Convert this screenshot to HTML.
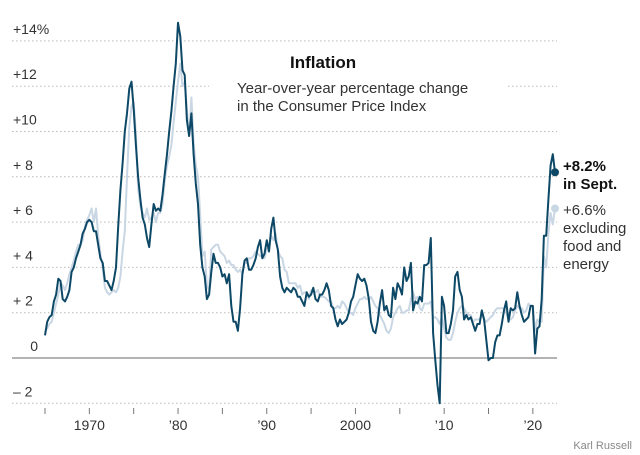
<!DOCTYPE html>
<html><head><meta charset="utf-8"><style>
html,body{margin:0;padding:0;background:#fff;}
svg{display:block;font-family:"Liberation Sans",sans-serif;}
</style></head><body>
<svg id="chart" width="640" height="455" viewBox="0 0 640 455">
<g id="grid"></g>
<g id="ylabels"></g>
<g id="xaxis"></g>
<g id="series"></g>
<text x="290" y="68" font-size="17" font-weight="bold" fill="#111">Inflation</text>
<text x="237" y="93" font-size="15" fill="#333">Year-over-year percentage change</text>
<text x="237" y="111" font-size="15" fill="#333">in the Consumer Price Index</text>
<g>
<text x="563" y="171" font-size="15" font-weight="bold" fill="#111">+8.2%</text>
<text x="563" y="189" font-size="15" font-weight="bold" fill="#111">in Sept.</text>
</g>
<g font-size="15" fill="#333">
<text x="563" y="215">+6.6%</text>
<text x="563" y="233">excluding</text>
<text x="563" y="251">food and</text>
<text x="563" y="269">energy</text>
</g>
<text x="632" y="449" font-size="11" fill="#888" text-anchor="end">Karl Russell</text>
</svg>
<script>
const yTicks=[14,12,10,8,6,4,2,0,-2];
const yTickLabels=["+14%","+12","+10","+ 8","+ 6","+ 4","+ 2","0","– 2"];
const xTicks=[1965,1970,1975,1980,1985,1990,1995,2000,2005,2010,2015,2020];
const xTickLabels={1970:"1970",1980:"’80",1990:"’90",2000:"2000",2010:"’10",2020:"’20"};
const startYear=1965;
const headline=[1.0,1.6,1.8,1.9, 2.5,2.8,3.5,3.4, 2.6,2.5,2.7,3.0, 3.8,4.0,4.4,4.7, 5.0,5.5,5.7,6.0, 6.1,6.0,5.6,5.6, 5.0,4.4,4.2,3.4, 3.4,3.2,3.0,3.4, 4.0,5.8,7.4,8.6, 10.0,10.8,11.9,12.2, 11.0,9.4,8.0,7.0, 6.2,5.9,5.3,4.9, 5.9,6.8,6.5,6.6, 6.5,7.2,8.1,9.0, 10.0,10.9,12.0,13.0, 14.8,14.2,12.7,12.5, 10.5,9.8,10.8,9.0, 7.7,6.8,5.0,4.0, 3.6,2.6,2.8,3.8, 4.6,4.2,4.2,4.0, 3.6,3.7,3.3,3.7, 2.3,1.6,1.6,1.2, 2.2,3.7,4.3,4.4, 3.9,3.9,4.1,4.4, 4.9,5.2,4.4,4.6, 5.2,4.7,5.7,6.2, 5.2,4.8,3.6,3.1, 2.9,3.1,3.0,2.9, 3.1,3.0,2.7,2.7, 2.5,2.3,2.9,2.7, 2.8,3.1,2.6,2.5, 2.8,2.8,3.0,3.3, 3.0,2.3,2.2,1.7, 1.4,1.7,1.5,1.6, 1.7,2.0,2.5,2.7, 3.2,3.7,3.5,3.4, 3.5,3.2,2.6,1.6, 1.2,1.1,1.6,2.4, 3.0,2.1,2.3,1.9, 1.8,3.1,2.6,3.3, 3.1,2.8,4.0,3.4, 3.6,4.2,2.1,2.5, 2.4,2.7,2.5,4.1, 4.1,4.2,5.3,1.1, -0.1,-1.2,-2.0,2.7, 2.3,1.1,1.1,1.5, 2.1,3.6,3.8,3.0, 2.7,1.7,1.9,1.7, 1.8,1.5,1.2,1.5, 1.5,2.1,1.7,0.8, -0.1,0.0,0.0,0.7, 1.0,1.0,1.5,2.1, 2.5,1.6,2.2,2.1, 2.2,2.9,2.3,1.9, 1.6,1.7,1.8,2.3, 2.3,0.2,1.3,1.4, 2.6,5.4,5.4,7.0, 8.5,9.0,8.2];
const core=[1.2,1.3,1.5,1.6, 2.0,2.4,2.8,3.3, 3.2,3.0,3.3,3.7, 4.0,4.3,4.7,5.0, 5.0,5.2,5.8,6.1, 6.3,6.6,6.0,6.6, 5.4,4.6,4.0,3.1, 2.9,2.8,2.9,3.0, 2.9,3.1,3.6,4.7, 5.6,8.0,10.2,11.1, 11.3,9.9,7.5,6.7, 6.4,6.2,6.6,6.1, 6.2,6.4,6.0,6.4, 6.4,6.8,7.8,8.5, 8.9,9.4,10.4,11.3, 12.2,13.0,12.0,12.2, 11.0,9.8,11.5,9.5, 8.5,8.0,6.3,4.5, 4.7,3.2,3.0,4.8, 4.9,5.0,5.0,4.7, 4.6,4.5,4.2,4.3, 4.1,4.1,3.9,3.8, 3.9,3.7,4.2,4.2, 4.4,4.4,4.5,4.7, 4.6,4.5,4.5,4.4, 4.8,4.9,5.4,5.2, 5.5,4.8,4.5,4.4, 3.9,3.8,3.3,3.3, 3.3,3.3,3.1,3.2, 2.8,2.9,2.9,2.6, 3.0,3.0,2.9,3.0, 2.7,2.7,2.7,2.6, 2.5,2.5,2.2,2.2, 2.3,2.2,2.5,2.4, 2.2,2.0,2.0,1.9, 2.2,2.4,2.6,2.6, 2.7,2.6,2.6,2.7, 2.5,2.3,2.2,1.9, 1.7,1.5,1.2,1.1, 1.3,1.8,2.0,2.2, 2.3,2.0,2.0,2.1, 2.1,2.6,2.9,2.6, 2.7,2.2,2.1,2.4, 2.4,2.4,2.5,1.8, 1.8,1.7,1.5,1.8, 1.3,0.9,0.8,0.8, 1.1,1.6,2.0,2.2, 2.3,2.2,2.0,1.9, 1.9,1.6,1.7,1.7, 1.7,1.9,1.7,1.6, 1.7,1.8,1.9,2.1, 2.2,2.2,2.2,2.2, 2.0,1.7,1.7,1.8, 2.1,2.3,2.2,2.2, 2.0,2.1,2.4,2.3, 2.3,1.2,1.7,1.6, 1.6,4.5,4.0,5.5, 6.4,5.9,6.6];

const NS="http://www.w3.org/2000/svg";
function xs(t){return 45+(t-1965)*8.87;}
function ys(v){return 358-v*22.65;}
function mk(tag,attrs,parent){const e=document.createElementNS(NS,tag);for(const k in attrs)e.setAttribute(k,attrs[k]);parent.appendChild(e);return e;}
const grid=document.getElementById('grid'),yl=document.getElementById('ylabels'),xa=document.getElementById('xaxis'),se=document.getElementById('series');
yTicks.forEach((v,i)=>{
  const y=ys(v);
  if(v===0){
    const l=mk('line',{x1:12,x2:557,y1:y,y2:y,stroke:'#888','stroke-width':1.2},grid);
    
    
  } else if(v===12){
    const a=mk('line',{x1:12,x2:209,y1:y,y2:y,stroke:'#bbb','stroke-dasharray':'1.5,2.5'},grid);
    
    
    const b=mk('line',{x1:508,x2:557,y1:y,y2:y,stroke:'#bbb','stroke-dasharray':'1.5,2.5'},grid);
    
    
  } else {
    const l=mk('line',{x1:12,x2:557,y1:y,y2:y,stroke:'#bbb','stroke-dasharray':'1.5,2.5'},grid);
    
    
  }
  const t=mk('text',{x:v===0?38:(v===14?13:13),y:y-7,'font-size':14,fill:'#333'},yl);
  if(v===0){t.setAttribute('text-anchor','end');}
  t.textContent=yTickLabels[i];
  
  
});
xTicks.forEach(yr=>{
  const x=xs(yr);
  const tk=mk('line',{x1:x,x2:x,y1:408,y2:414,stroke:'#777','stroke-width':1},xa);
  
  
  if(xTickLabels[yr]){
    const t=mk('text',{x:x,y:430,'font-size':14,fill:'#333','text-anchor':'middle'},xa);
    t.textContent=xTickLabels[yr];
    
    
  }
});
function path(arr,color,w,name){
  const d=arr.map((v,i)=>(i?'L':'M')+xs(startYear+i*0.25).toFixed(1)+','+ys(v).toFixed(1)).join(' ');
  const p=mk('path',{d:d,fill:'none',stroke:color,'stroke-width':w,'stroke-linejoin':'round'},se);
  
  
  return p;
}
path(core,'#c9d6e3',2,'core-cpi-line');
path(headline,'#0d4866',2,'headline-cpi-line');
const lc=core.length-1,lh=headline.length-1;
const d1=mk('circle',{cx:xs(startYear+lc*0.25),cy:ys(core[lc]),r:4,fill:'#c9d6e3'},se);


const d2=mk('circle',{cx:xs(startYear+lh*0.25),cy:ys(headline[lh]),r:4,fill:'#0d4866'},se);


</script>
</body></html>
